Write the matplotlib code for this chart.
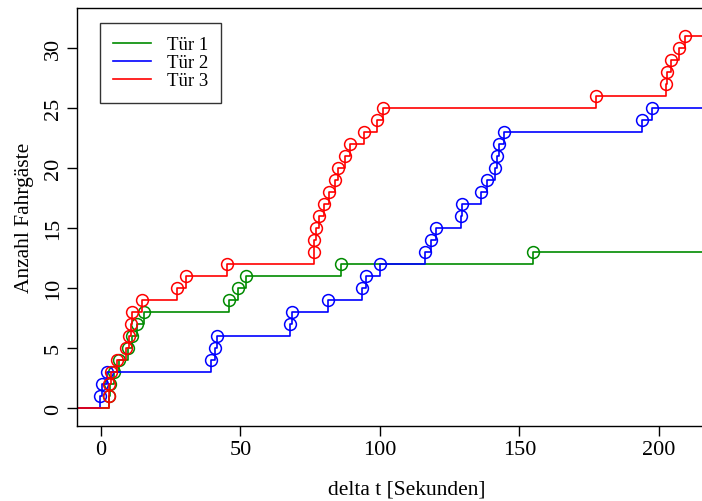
import numpy as np
import matplotlib.pyplot as plt

plt.rcParams['font.family'] = ['Liberation Serif', 'DejaVu Serif']

# Ankunftszeiten (Sekunden) je Tuer
t_tuer1 = [2.9, 3.3, 4.8, 6.3, 9.8, 11.2, 12.8, 15.3, 45.9, 49.1, 51.9, 85.9, 154.8]
t_tuer2 = [-0.3, 0.3, 2.1, 39.6, 40.7, 41.7, 67.8, 68.6, 81.3, 93.7, 95.1, 100.1,
           116.3, 118.3, 120.1, 129.0, 129.3, 136.3, 138.3, 141.1, 141.9, 142.7,
           144.5, 194.1, 197.5]
t_tuer3 = [2.7, 2.9, 3.6, 5.7, 8.9, 9.9, 10.8, 11.1, 14.7, 27.1, 30.3, 45.3,
           76.2, 76.5, 77.2, 78.2, 79.8, 81.9, 83.9, 85.1, 87.3, 89.3, 94.3,
           98.9, 101.1, 177.3, 202.5, 202.8, 204.3, 207.1, 209.5]

labels = ["Tür 1", "Tür 2", "Tür 3"]
farben = ["#008B00", "#0000FF", "#FF0000"]

fig = plt.figure(figsize=(7.02, 5.02), dpi=100)
ax = fig.add_axes([77/702, 75/502, 660/702, 418/502])

for t, lab, col in zip([t_tuer1, t_tuer2, t_tuer3], labels, farben):
    t = np.array(t)
    n = np.arange(1, len(t) + 1)
    xs = np.concatenate([[-20], t, [260]])
    ys = np.concatenate([[0], n, [n[-1]]])
    ax.step(xs, ys, where='post', color=col, lw=1.2, label=lab)
    ax.plot(t, n, 'o', mfc='none', mec=col, ms=8.5, mew=1.1)

ax.set_xlim(-8.6, 228)
ax.set_ylim(-1.5, 33.3)
ax.set_xticks([0, 50, 100, 150, 200])
ax.set_yticks([0, 5, 10, 15, 20, 25, 30])
ax.tick_params(direction='out', length=7, width=1, labelsize=16, pad=3)
for lbl in ax.get_yticklabels():
    lbl.set_rotation(90)
    lbl.set_va('center')
for s in ax.spines.values():
    s.set_linewidth(1)
ax.spines['right'].set_visible(False)

ax.set_xlabel("delta t [Sekunden]", fontsize=15.5, labelpad=15)
ax.set_ylabel("Anzahl Fahrgäste", fontsize=15.5, labelpad=7)

leg = ax.legend(loc='upper left', bbox_to_anchor=(23/660, 1 - 15/418),
                frameon=True, fancybox=False, edgecolor='black',
                fontsize=13.5, handlelength=2.0, handletextpad=0.85,
                labelspacing=0.05, borderpad=0.7, borderaxespad=0)
leg.get_frame().set_linewidth(1)

fig.savefig("out.png", dpi=100)
